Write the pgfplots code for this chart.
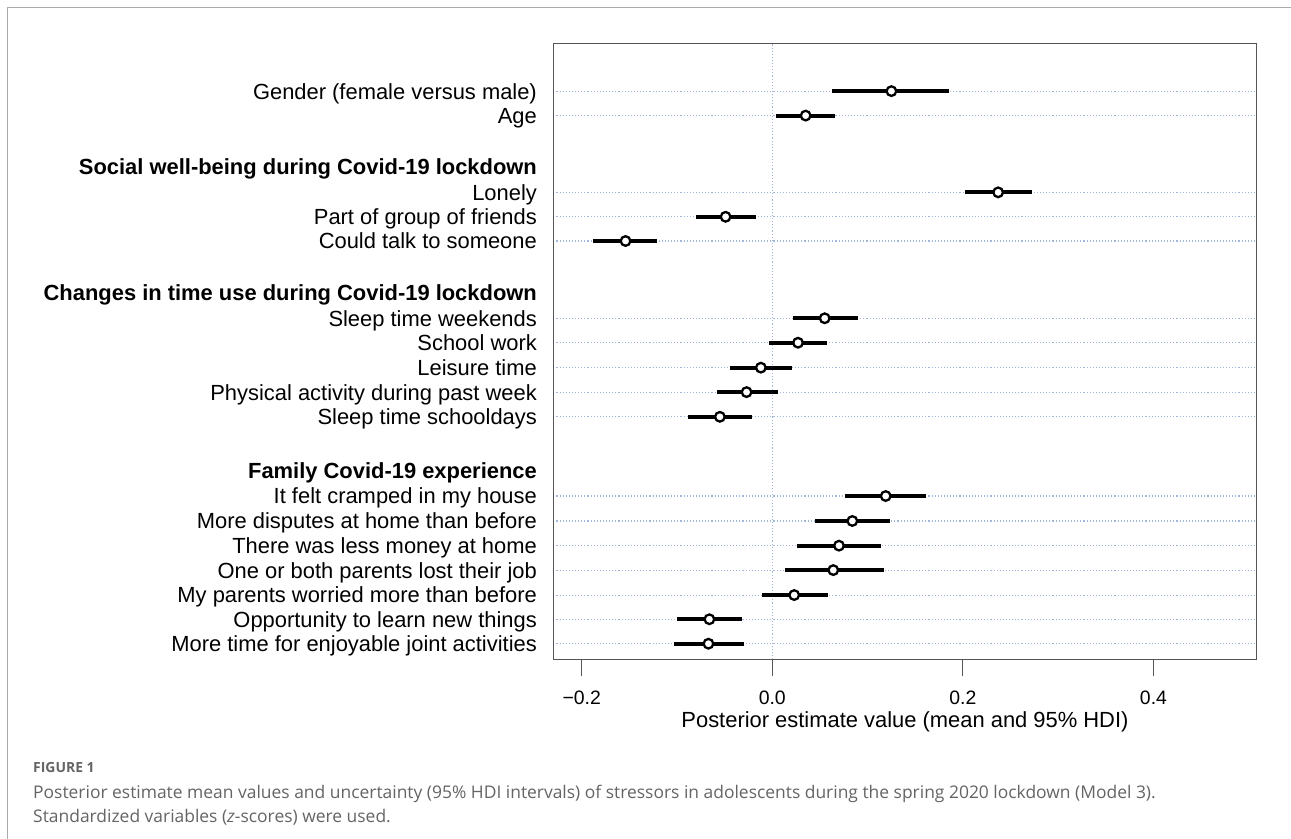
\documentclass[border=0pt]{standalone}
\usepackage{pgfplots}
\pgfplotsset{compat=1.18}
\usepackage{pgfplotstable}
\usepackage{fontspec}
\setmainfont{Liberation Sans}
\newfontfamily\capfont{Open Sans}
\definecolor{gridc}{RGB}{160,182,218}
\definecolor{axc}{RGB}{85,85,85}
\definecolor{capc}{RGB}{100,100,100}
\definecolor{framec}{RGB}{170,170,170}

% y = row position, m = posterior mean, lo/hi = 95% HDI
\pgfplotstableread{
y     m       lo      hi
23.60  0.125   0.063   0.185
22.60  0.035   0.004   0.066
19.46  0.237   0.202   0.273
18.46 -0.049  -0.080  -0.017
17.47 -0.154  -0.188  -0.121
14.31  0.055   0.022   0.090
13.31  0.027  -0.003   0.057
12.29 -0.012  -0.044   0.021
11.29 -0.027  -0.058   0.006
10.28 -0.055  -0.088  -0.021
7.04   0.119   0.076   0.161
6.02   0.084   0.045   0.124
5.01   0.070   0.026   0.114
4.01   0.064   0.013   0.117
2.99   0.023  -0.011   0.058
2.00  -0.066  -0.100  -0.032
1.00  -0.067  -0.103  -0.030
}\est

\begin{document}
\begin{tikzpicture}
\useasboundingbox (0,0) rectangle (1291bp,-839bp);
\draw[framec, line width=1bp] (7bp,-839bp) -- (7bp,-7bp) -- (1291bp,-7bp);
\begin{axis}[
  at={(553.3bp,-659.3bp)}, anchor=south west,
  scale only axis, width=703.4bp, height=616bp,
  xmin=-0.2298, xmax=0.5083, ymin=0.362, ymax=25.556,
  axis line style={axc, line width=1.2bp},
  xtick={-0.2,0,0.2,0.4},
  xticklabels={−0.2,0.0,0.2,0.4},
  xtick pos=bottom, ytick pos=left,
  tick align=outside,
  xtick style={draw=axc, solid, line width=1.2bp, /pgfplots/major tick length=17bp},
  ytick style={/pgfplots/major tick length=0pt, draw=none},
  xticklabel style={font=\fontsize{19.5}{19.5}\selectfont, anchor=base, inner sep=0pt, yshift=-40.5bp},
  ytick={1,2,2.99,4.01,5.01,6.02,7.04,10.28,11.29,12.29,13.31,14.31,17.47,18.46,19.46,22.6,23.6},
  yticklabels={More time for enjoyable joint activities,
    Opportunity to learn new things,
    My parents worried more than before,
    One or both parents lost their job,
    There was less money at home,
    More disputes at home than before,
    It felt cramped in my house,
    Sleep time schooldays,
    Physical activity during past week,
    Leisure time,
    School work,
    Sleep time weekends,
    Could talk to someone,
    Part of group of friends,
    Lonely,
    Age,
    Gender (female versus male)},
  extra y ticks={8.1,15.38,20.5},
  extra y tick labels={\textbf{Family Covid-19 experience},
    \textbf{Changes in time use during Covid-19 lockdown},
    \textbf{Social well-being during Covid-19 lockdown}},
  extra y tick style={grid=none},
  yticklabel style={font=\fontsize{22}{22}\selectfont, anchor=base east, inner sep=0pt, xshift=-12bp, yshift=-7.9bp},
  ymajorgrids,
  grid style={gridc, line width=1.1bp, dash pattern=on 1.1bp off 2bp},
  xlabel={Posterior estimate value (mean and 95\% HDI)},
  xlabel style={font=\fontsize{22}{22}\selectfont, at={(axis description cs:0.5,0)}, anchor=base, inner sep=0pt, yshift=-67.7bp},
  clip=false,
]
\addplot[gridc, line width=1.1bp, dash pattern=on 1.1bp off 2bp, forget plot] coordinates {(0,0.362) (0,25.556)};
\addplot[only marks, mark=none,
  error bars/.cd, x dir=both, x explicit, error mark=none,
  error bar style={draw=black, solid, line width=4bp}]
  table[x=m, y=y, x error plus expr=\thisrow{hi}-\thisrow{m}, x error minus expr=\thisrow{m}-\thisrow{lo}] {\est};
\addplot[only marks, mark=*, mark size=4.8bp, mark options={fill=white, draw=black, line width=2.3bp, solid}]
  table[x=m, y=y] {\est};
\end{axis}
\node[anchor=base west, inner sep=0pt, text=capc, font=\capfont\fontsize{14}{14}\selectfont\bfseries] at (33bp,-772bp) {FIGURE 1};
\node[anchor=base west, inner sep=0pt, text=capc, font=\capfont\fontsize{17.5}{17.5}\selectfont] at (33bp,-798bp) {Posterior estimate mean values and uncertainty (95\% HDI intervals) of stressors in adolescents during the spring 2020 lockdown (Model 3).};
\node[anchor=base west, inner sep=0pt, text=capc, font=\capfont\fontsize{17.5}{17.5}\selectfont] at (33bp,-822bp) {Standardized variables (\textit{z}-scores) were used.};
\end{tikzpicture}
\end{document}
